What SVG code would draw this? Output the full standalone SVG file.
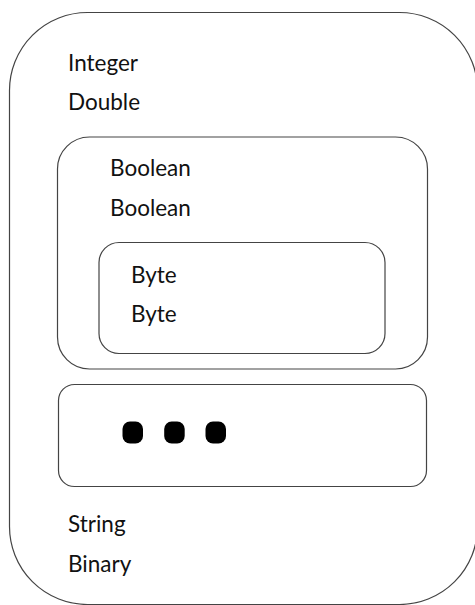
<svg xmlns="http://www.w3.org/2000/svg" width="475" height="605" viewBox="0 0 475 605">
<style>
.box{fill:#ffffff;stroke:#444444;stroke-width:1.2}
.lbl{font-family:Lato,"Open Sans","Liberation Sans",sans-serif;font-size:22.5px;fill:#111111}
.dot{fill:#000000}
</style>
<rect width="475" height="605" fill="#ffffff"/>
<g id="outer">
<rect class="box" x="9.5" y="12.5" width="468" height="592" rx="78" ry="78"/>
<text class="lbl" x="68" y="70.5">Integer</text>
<text class="lbl" x="68" y="110">Double</text>
<text class="lbl" x="68" y="532">String</text>
<text class="lbl" x="68" y="571.5">Binary</text>
</g>
<g id="boolean">
<rect class="box" x="57.5" y="137" width="370" height="232" rx="32" ry="32"/>
<text class="lbl" x="110" y="176">Boolean</text>
<text class="lbl" x="110" y="216">Boolean</text>
</g>
<g id="byte">
<rect class="box" x="99" y="242.5" width="286" height="111" rx="20" ry="20"/>
<text class="lbl" x="131" y="282.5">Byte</text>
<text class="lbl" x="131" y="321.5">Byte</text>
</g>
<g id="more">
<rect class="box" x="58.5" y="384.5" width="368" height="102" rx="16" ry="16"/>
<rect class="dot" x="122.5" y="421.5" width="20.5" height="22" rx="7.5" ry="7.5"/>
<rect class="dot" x="164.2" y="421.5" width="20.5" height="22" rx="7.5" ry="7.5"/>
<rect class="dot" x="205.5" y="421.5" width="20.5" height="22" rx="7.5" ry="7.5"/>
</g>
<g id="connectors"></g>
</svg>
